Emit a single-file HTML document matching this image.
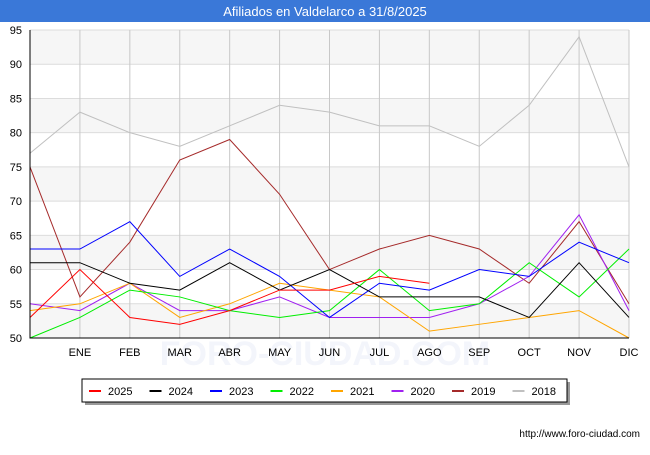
<!DOCTYPE html>
<html><head><meta charset="utf-8"><style>
body{margin:0;width:650px;height:450px;background:#fff;font-family:"Liberation Sans","DejaVu Sans",sans-serif;overflow:hidden}
</style></head><body>
<svg id="c" width="650" height="450" xmlns="http://www.w3.org/2000/svg">
<rect x="0" y="0" width="650" height="22" fill="#3a78d8"/>
<text x="325" y="16" text-anchor="middle" fill="#fff" font-size="13">Afiliados en Valdelarco a 31/8/2025</text>
<g id="plot"></g>
<rect x="85" y="382" width="485" height="23" fill="#999"/>
<rect x="82" y="379" width="485" height="23" fill="#fff" stroke="#000" stroke-width="1"/>
<g id="legend"></g>
<text x="640" y="437" text-anchor="end" font-size="10" fill="#000">http://www.foro-ciudad.com</text>
</svg>
<script>
const categories=["","ENE","FEB","MAR","ABR","MAY","JUN","JUL","AGO","SEP","OCT","NOV","DIC"];
const yTicks=[50,55,60,65,70,75,80,85,90,95];
const seriesNames=["2025","2024","2023","2022","2021","2020","2019","2018"];
const seriesColors=["#ff0000","#000000","#0000ff","#00ee00","#ffa500","#a020f0","#a52a2a","#c0c0c0"];
const s2025=[53,60,53,52,54,57,57,59,58];
const s2024=[61,61,58,57,61,57,60,56,56,56,53,61,53];
const s2023=[63,63,67,59,63,59,53,58,57,60,59,64,61];
const s2022=[50,53,57,56,54,53,54,60,54,55,61,56,63];
const s2021=[54,55,58,53,55,58,57,56,51,52,53,54,50];
const s2020=[55,54,58,54,54,56,53,53,53,55,59,68,54];
const s2019=[75,56,64,76,79,71,60,63,65,63,58,67,55];
const s2018=[77,83,80,78,81,84,83,81,81,78,84,94,75];
const allSeries=[s2025,s2024,s2023,s2022,s2021,s2020,s2019,s2018];
const NS="http://www.w3.org/2000/svg";
const L=30,R=629,T=30,B=338,ymin=50,ymax=95;
const xs=i=>L+(R-L)*i/(categories.length-1);
const ys=v=>B-(v-ymin)/(ymax-ymin)*(B-T);
const plot=document.getElementById('plot');
function mk(t,a,p){const e=document.createElementNS(NS,t);for(const k in a)e.setAttribute(k,a[k]);(p||plot).appendChild(e);return e;}
for(let i=0;i<yTicks.length-1;i++){
 if(i%2===0){const r=mk('rect',{x:L,y:ys(yTicks[i+1]),width:R-L,height:ys(yTicks[i])-ys(yTicks[i+1]),fill:'#f6f6f6'});
 
 }
}
const wm=mk('text',{x:325,y:365,'text-anchor':'middle','font-size':'34',fill:'#f3f5fb','font-weight':'bold'});wm.textContent='FORO-CIUDAD.COM';


yTicks.forEach(v=>{
 const g=mk('line',{x1:L,x2:R,y1:ys(v),y2:ys(v),stroke:'#dcdcdc'});
 
 
 const t=mk('text',{x:L-8,y:ys(v)+4,'text-anchor':'end','font-size':'11',fill:'#000'});t.textContent=v;
 
 
});
categories.forEach((c,i)=>{
 if(i>0){const g=mk('line',{x1:xs(i),x2:xs(i),y1:T,y2:B,stroke:'#c8c8c8'});
 
 }
 const t=mk('text',{x:xs(i),y:B+18,'text-anchor':'middle','font-size':'11',fill:'#000'});t.textContent=c;
 
 
});
for(let k=allSeries.length-1;k>=0;k--){
 const pts=allSeries[k].map((v,i)=>xs(i)+','+ys(v)).join(' ');
 const p=mk('polyline',{points:pts,fill:'none',stroke:seriesColors[k],'stroke-width':'1'});
 
 
}
const ax=mk('path',{d:`M${L},${T}V${B}H${R}`,fill:'none',stroke:'#000','stroke-width':'1'});


const lg=document.getElementById('legend');
seriesNames.forEach((n,k)=>{
 const x0=89+k*60.5;
 const l=mk('line',{x1:x0,x2:x0+12,y1:391,y2:391,stroke:seriesColors[k],'stroke-width':'2'},lg);
 
 
 const t=mk('text',{x:x0+19,y:395,'font-size':'11',fill:'#000'},lg);t.textContent=n;
 
 
});
</script>
</body></html>
